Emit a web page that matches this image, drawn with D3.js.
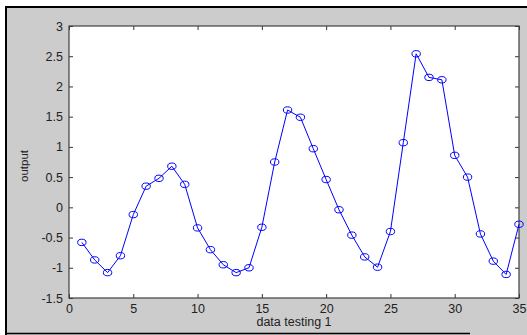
<!DOCTYPE html>
<html><head><meta charset="utf-8">
<script src="https://cdn.jsdelivr.net/npm/d3@7"></script>
<style>body{margin:0;background:#fff}svg{display:block}text{font-family:"Liberation Sans",Arial,sans-serif}</style>
</head><body><svg id="c" width="527" height="335"></svg>
<script>
const xValues = d3.range(1, 36);
const outputValues = [-0.58,-0.87,-1.08,-0.80,-0.12,0.35,0.48,0.68,0.38,-0.34,
  -0.70,-0.95,-1.08,-1.00,-0.33,0.75,1.61,1.49,0.97,0.46,
  -0.04,-0.46,-0.82,-0.99,-0.40,1.07,2.54,2.15,2.11,0.86,
  0.50,-0.44,-0.89,-1.11,-0.28];
const xTicks = [0,5,10,15,20,25,30,35];
const yTicks = [-1.5,-1,-0.5,0,0.5,1,1.5,2,2.5,3];
const xLabel = "data testing 1";
const yLabel = "output";

const svg = d3.select("#c");
const L=69, R=519, T=26, B=298;
svg.append("rect").attr("x",6).attr("y",7).attr("width",521).attr("height",328).attr("fill","#cccccc");
svg.append("line").attr("x1",5).attr("x2",527).attr("y1",7).attr("y2",7).attr("stroke","#000").attr("stroke-width",2);
svg.append("line").attr("x1",6).attr("x2",6).attr("y1",6).attr("y2",335).attr("stroke","#000").attr("stroke-width",2);
svg.append("line").attr("x1",5).attr("x2",470).attr("y1",333.5).attr("y2",333.5).attr("stroke","#000").attr("stroke-width",1.5);
svg.append("rect").attr("x",L).attr("y",T).attr("width",R-L).attr("height",B-T).attr("fill","#fff");

const x = d3.scaleLinear().domain([0,35]).range([L,R]);
const y = d3.scaleLinear().domain([-1.5,3]).range([B,T]);
const fmt = d => String(d);
function styleAxis(g){g.select(".domain").remove();g.selectAll("line").attr("stroke","#333");
  g.selectAll("text").attr("fill","#222").style("font-size","12.5px");}
svg.append("g").attr("transform",`translate(0,${B})`).call(d3.axisBottom(x).tickValues(xTicks).tickFormat(fmt).tickSizeInner(-4).tickSizeOuter(0).tickPadding(6)).call(styleAxis);
svg.append("g").attr("transform",`translate(0,${T})`).call(d3.axisTop(x).tickValues(xTicks).tickFormat("").tickSizeInner(-4).tickSizeOuter(0)).call(styleAxis);
svg.append("g").attr("transform",`translate(${L},0)`).call(d3.axisLeft(y).tickValues(yTicks).tickFormat(fmt).tickSizeInner(-4).tickSizeOuter(0).tickPadding(6)).call(styleAxis);
svg.append("g").attr("transform",`translate(${R},0)`).call(d3.axisRight(y).tickValues(yTicks).tickFormat("").tickSizeInner(-4).tickSizeOuter(0)).call(styleAxis);
svg.append("rect").attr("x",L).attr("y",T).attr("width",R-L).attr("height",B-T).attr("fill","none").attr("stroke","#404040").attr("stroke-width",1.2);

const data = xValues.map((v,i)=>({x:v,y:outputValues[i]}));
svg.append("path").datum(data).attr("fill","none").attr("stroke","#0000ff").attr("stroke-width",1)
  .attr("d", d3.line().x(d=>x(d.x)).y(d=>y(d.y)));
svg.append("g").selectAll("ellipse").data(data).join("ellipse")
  .attr("cx",d=>x(d.x)).attr("cy",d=>y(d.y)).attr("rx",4.2).attr("ry",3.2)
  .attr("fill","none").attr("stroke","#0000ff").attr("stroke-width",1);

svg.append("text").attr("x",(L+R)/2).attr("y",326).attr("text-anchor","middle").attr("fill","#222").style("font-size","12.5px").text(xLabel);
svg.append("text").attr("transform",`translate(28,${(T+B)/2+4}) rotate(-90)`).attr("text-anchor","middle").attr("fill","#222").style("font-size","11.5px").text(yLabel);
</script></body></html>
